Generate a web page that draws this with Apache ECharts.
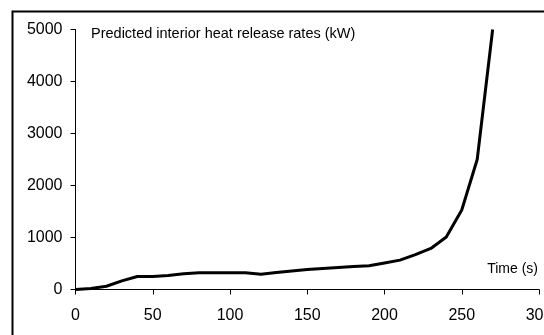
<!DOCTYPE html>
<html>
<head>
<meta charset="utf-8">
<script src="https://cdn.jsdelivr.net/npm/echarts@6/dist/echarts.min.js"></script>
<style>
  html, body { margin: 0; padding: 0; background: #fff; }
  #chart { width: 544px; height: 335px; }
</style>
</head>
<body>
<div id="chart"></div>
<script>
// time (s) and predicted heat release rate (kW)
const times = [0, 10, 20, 30, 40, 50, 60, 70, 80, 90, 100, 110, 120, 130, 140, 150, 160, 170, 180, 190, 200, 210, 220, 230, 240, 250, 260, 270];
const hrr = [0, 20, 63, 165, 250, 250, 270, 305, 320, 320, 320, 320, 295, 325, 355, 385, 405, 425, 440, 455, 510, 565, 670, 790, 1010, 1530, 2500, 5000];
const yTicks = [0, 1000, 2000, 3000, 4000, 5000];

const chart = echarts.init(document.getElementById("chart"));

const option = {
  animation: false,
  backgroundColor: "#fff",
  grid: { left: 75.5, right: 5, top: 29.5, bottom: 45.5, containLabel: false, outerBoundsMode: "none" },
  xAxis: {
    type: "value",
    min: 0,
    max: 300,
    interval: 50,
    axisLine: { show: true, onZero: false, lineStyle: { color: "#000", width: 1 } },
    axisTick: { show: true, inside: false, length: 5, lineStyle: { color: "#000" } },
    axisLabel: { color: "#000", fontSize: 16, fontFamily: "Liberation Sans, Arial", margin: 18, showMaxLabel: true, hideOverlap: false },
    splitLine: { show: false }
  },
  yAxis: {
    type: "value",
    min: yTicks[0],
    max: yTicks[yTicks.length - 1],
    interval: 1000,
    axisLine: { show: true, lineStyle: { color: "#000", width: 1 } },
    axisTick: { show: true, inside: false, length: 5, lineStyle: { color: "#000" } },
    axisLabel: { color: "#000", fontSize: 16, fontFamily: "Liberation Sans, Arial", margin: 13, formatter: v => String(v) },
    splitLine: { show: false }
  },
  graphic: [
    {
      type: "rect",
      shape: { x: 12.5, y: 11.5, width: 560, height: 360 },
      style: { fill: null, stroke: "#000", lineWidth: 2 },
      silent: true,
      z: 100
    },
    {
      type: "text",
      left: 91,
      top: 26,
      style: {
        text: "Predicted interior heat release rates (kW)",
        fill: "#000",
        font: "14.5px Liberation Sans, Arial"
      }
    },
    {
      type: "text",
      right: 6,
      top: 262,
      style: {
        text: "Time (s)",
        fill: "#000",
        font: "14px Liberation Sans, Arial"
      }
    }
  ],
  series: [
    {
      type: "line",
      data: times.map((t, i) => [t, hrr[i]]),
      showSymbol: false,
      smooth: false,
      clip: false,
      lineStyle: { color: "#000", width: 3, join: "round" }
    }
  ]
};

chart.setOption(option);
</script>
</body>
</html>
